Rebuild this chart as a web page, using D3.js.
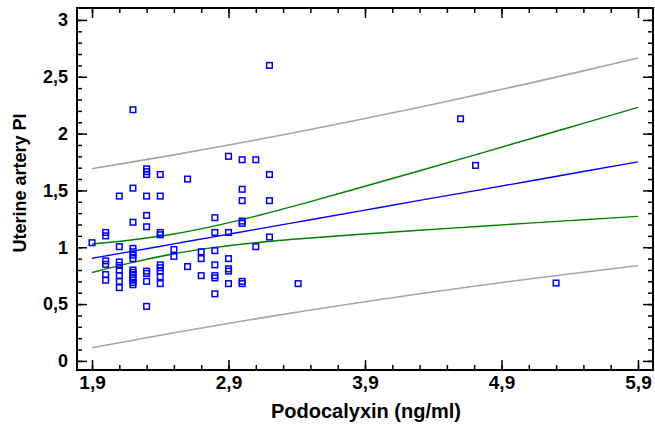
<!DOCTYPE html>
<html>
<head>
<meta charset="utf-8">
<script src="https://cdn.jsdelivr.net/npm/d3@7"></script>
<style>
  html, body { margin: 0; padding: 0; background: #fff; }
  svg { display: block; font-family: "Liberation Sans", Arial, sans-serif; }
</style>
</head>
<body>
<svg id="chart" width="655" height="429"></svg>
<script>
// Observations: podocalyxin (ng/ml) vs uterine artery PI
const podocalyxin = [
  1.9,
  2.0, 2.0, 2.0, 2.0, 2.0, 2.0,
  2.1, 2.1, 2.1, 2.1, 2.1, 2.1, 2.1, 2.1,
  2.2, 2.2, 2.2, 2.2, 2.2, 2.2, 2.2, 2.2, 2.2, 2.2, 2.2, 2.2, 2.2, 2.2,
  2.3, 2.3, 2.3, 2.3, 2.3, 2.3, 2.3, 2.3, 2.3, 2.3,
  2.4, 2.4, 2.4, 2.4, 2.4, 2.4, 2.4, 2.4, 2.4,
  2.5, 2.5,
  2.6, 2.6,
  2.7, 2.7, 2.7,
  2.8, 2.8, 2.8, 2.8, 2.8, 2.8, 2.8,
  2.9, 2.9, 2.9, 2.9, 2.9, 2.9,
  3.0, 3.0, 3.0, 3.0, 3.0, 3.0, 3.0,
  3.1, 3.1,
  3.2, 3.2, 3.2, 3.2,
  3.41,
  4.6, 4.71, 5.3
];
const uterinePI = [
  1.04,
  1.13, 1.10, 0.88, 0.85, 0.76, 0.71,
  1.45, 1.005, 0.87, 0.84, 0.80, 0.75, 0.70, 0.645,
  2.21, 1.52, 1.22, 0.99, 0.96, 0.93, 0.90, 0.80, 0.78, 0.76, 0.73, 0.71, 0.69, 0.67,
  1.69, 1.665, 1.64, 1.45, 1.28, 1.18, 0.79, 0.77, 0.70, 0.48,
  1.64, 1.45, 1.13, 1.11, 0.845, 0.82, 0.79, 0.74, 0.68,
  0.98, 0.92,
  1.60, 0.83,
  0.96, 0.90, 0.75,
  1.26, 1.13, 0.97, 0.845, 0.75, 0.73, 0.59,
  1.80, 1.13, 0.90, 0.81, 0.79, 0.68,
  1.77, 1.51, 1.41, 1.23, 1.21, 0.70, 0.68,
  1.77, 1.005,
  2.60, 1.64, 1.41, 1.09,
  0.68,
  2.13, 1.72, 0.685
];

// Fitted regression with 95% confidence and prediction limits
const bandX      = [1.9, 2.2, 2.5, 2.8, 3.1, 3.5, 3.9, 4.3, 4.7, 5.1, 5.5, 5.9];
const fitLine    = [0.903, 0.966, 1.030, 1.094, 1.157, 1.242, 1.327, 1.412, 1.496, 1.581, 1.666, 1.751];
const confUpper  = [1.028, 1.066, 1.117, 1.188, 1.274, 1.402, 1.537, 1.673, 1.811, 1.950, 2.090, 2.230];
const confLower  = [0.778, 0.867, 0.943, 0.999, 1.040, 1.082, 1.117, 1.150, 1.181, 1.212, 1.242, 1.272];
const predUpper  = [1.691, 1.751, 1.813, 1.877, 1.944, 2.036, 2.133, 2.232, 2.336, 2.442, 2.552, 2.665];
const predLower  = [0.115, 0.182, 0.247, 0.310, 0.370, 0.448, 0.521, 0.591, 0.657, 0.720, 0.780, 0.837];

// Tick values
const xMajor = [1.9, 2.9, 3.9, 4.9, 5.9];
const xMinor = d3.range(0, 21).map(i => +(1.9 + i * 0.2).toFixed(2));
const yMajor = [0, 0.5, 1, 1.5, 2, 2.5, 3];
const yMinor = d3.range(0, 31).map(i => +(i * 0.1).toFixed(2));

const svg = d3.select("#chart");
const box = { left: 77, right: 653, top: 8, bottom: 370 };

const x = d3.scaleLinear().domain([1.79, 6.01]).range([box.left, box.right]);
const y = d3.scaleLinear().domain([-0.08, 3.105]).range([box.bottom, box.top]);

const comma = d3.formatLocale({ decimal: ",", thousands: ".", grouping: [3], currency: ["", ""] }).format(".2~f");

// Curves
const curves = [
  { vals: predUpper, color: "#a6a6a6", w: 1.6 },
  { vals: predLower, color: "#a6a6a6", w: 1.6 },
  { vals: confUpper, color: "#008000", w: 1.4 },
  { vals: confLower, color: "#008000", w: 1.4 },
  { vals: fitLine,   color: "#0000ff", w: 1.4 }
];
const line = d3.line().x(d => x(d[0])).y(d => y(d[1])).curve(d3.curveMonotoneX);
svg.append("g").selectAll("path").data(curves).join("path")
  .attr("d", c => line(bandX.map((bx, i) => [bx, c.vals[i]])))
  .attr("fill", "none")
  .attr("stroke", c => c.color)
  .attr("stroke-width", c => c.w);

// Scatter points
const pts = podocalyxin.map((px, i) => [px, uterinePI[i]]);
const s = 5.6;
svg.append("g").selectAll("rect").data(pts).join("rect")
  .attr("x", d => x(d[0]) - s / 2)
  .attr("y", d => y(d[1]) - s / 2)
  .attr("width", s)
  .attr("height", s)
  .attr("fill", "none")
  .attr("stroke", "#0000ff")
  .attr("stroke-width", 1.5);

// Axes (ticks point inward on all four sides)
function styleAxis(size) {
  return g => {
    g.select(".domain").remove();
    g.selectAll(".tick line").attr("stroke", "#000").attr("stroke-width", 1.5);
    g.selectAll(".tick text")
      .attr("fill", "#000")
      .style("font-size", size + "px")
      .style("font-weight", "bold")
      .style("font-family", "'Liberation Sans', Arial, sans-serif");
  };
}

const majorLen = 10, minorLen = 5;

// bottom
svg.append("g").attr("transform", `translate(0,${box.bottom})`)
  .call(d3.axisBottom(x).tickValues(xMinor).tickSize(-minorLen).tickFormat(""))
  .call(styleAxis(19));
svg.append("g").attr("transform", `translate(0,${box.bottom})`)
  .call(d3.axisBottom(x).tickValues(xMajor).tickSize(-majorLen).tickPadding(6).tickFormat(comma))
  .call(styleAxis(19));
// top
svg.append("g").attr("transform", `translate(0,${box.top})`)
  .call(d3.axisTop(x).tickValues(xMinor).tickSize(-minorLen).tickFormat(""))
  .call(styleAxis(19));
svg.append("g").attr("transform", `translate(0,${box.top})`)
  .call(d3.axisTop(x).tickValues(xMajor).tickSize(-majorLen).tickFormat(""))
  .call(styleAxis(19));
// left
svg.append("g").attr("transform", `translate(${box.left},0)`)
  .call(d3.axisLeft(y).tickValues(yMinor).tickSize(-minorLen).tickFormat(""))
  .call(styleAxis(18));
svg.append("g").attr("transform", `translate(${box.left},0)`)
  .call(d3.axisLeft(y).tickValues(yMajor).tickSize(-majorLen).tickPadding(9).tickFormat(comma))
  .call(styleAxis(18));
// right
svg.append("g").attr("transform", `translate(${box.right},0)`)
  .call(d3.axisRight(y).tickValues(yMinor).tickSize(-minorLen).tickFormat(""))
  .call(styleAxis(18));
svg.append("g").attr("transform", `translate(${box.right},0)`)
  .call(d3.axisRight(y).tickValues(yMajor).tickSize(-majorLen).tickFormat(""))
  .call(styleAxis(18));

// Frame
svg.append("rect")
  .attr("x", box.left).attr("y", box.top)
  .attr("width", box.right - box.left).attr("height", box.bottom - box.top)
  .attr("fill", "none").attr("stroke", "#000").attr("stroke-width", 2);

// Axis titles
svg.append("text")
  .attr("x", (box.left + box.right) / 2 + 1)
  .attr("y", 418)
  .attr("text-anchor", "middle")
  .style("font-size", "20px").style("font-weight", "bold")
  .text("Podocalyxin (ng/ml)");

svg.append("text")
  .attr("transform", `translate(26,${183}) rotate(-90)`)
  .attr("text-anchor", "middle")
  .style("font-size", "18px").style("font-weight", "bold")
  .text("Uterine artery PI");
</script>
</body>
</html>
